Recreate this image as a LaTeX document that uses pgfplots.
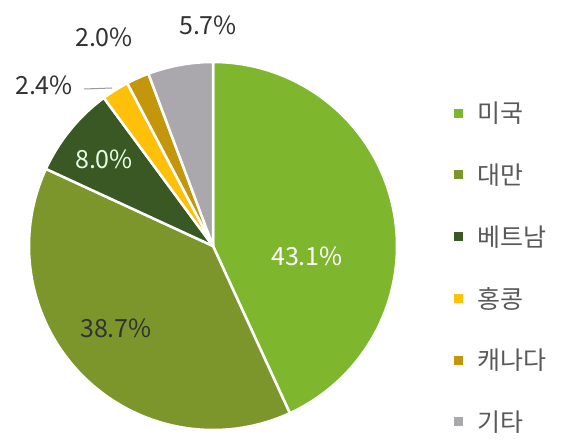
\documentclass[border=0pt]{standalone}
\usepackage{pgfplots}
\pgfplotsset{compat=1.18}
\usepackage{fontspec}
\setmainfont{Noto Sans CJK KR}
\definecolor{cUS}{RGB}{126,183,45}
\definecolor{cTW}{RGB}{124,150,44}
\definecolor{cVN}{RGB}{58,88,35}
\definecolor{cHK}{RGB}{255,192,10}
\definecolor{cCA}{RGB}{196,150,12}
\definecolor{cOT}{RGB}{170,168,172}
\definecolor{txt}{RGB}{89,89,89}
\definecolor{lbl}{RGB}{50,50,50}
% slice: #1 cumulative start (%), #2 value (%), #3 colour; total = 99.9
\newcommand{\slice}[3]{%
  \addplot[fill=#3, draw=white, line width=2.5pt, line join=round, domain=0:1, samples=120]
    ({213+184*cos(90-360*(#1+#2*x)/99.9)},{199+184*sin(90-360*(#1+#2*x)/99.9)})
    -- (axis cs:213,199) -- cycle;}
\begin{document}
\begin{tikzpicture}
\begin{axis}[scale only axis, width=571pt, height=445pt,
  xmin=0, xmax=571, ymin=0, ymax=445, hide axis, clip=false,
  legend cell align=left,
  legend image code/.code={\fill[#1, draw=none] (0pt,-4.5pt) rectangle (9pt,4.5pt);},
  legend style={at={(axis cs:454,345)}, anchor=north west, draw=none, fill=none,
    font=\fontsize{25}{25}\selectfont, text=txt, row sep=35.5pt, column sep=12pt, inner sep=0pt,
    nodes={inner sep=2pt}}]
\path (axis cs:0,0) rectangle (axis cs:571,445);
\slice{0}{43.1}{cUS}\addlegendentry{미국}
\slice{43.1}{38.7}{cTW}\addlegendentry{대만}
\slice{81.8}{8.0}{cVN}\addlegendentry{베트남}
\slice{89.8}{2.4}{cHK}\addlegendentry{홍콩}
\slice{92.2}{2.0}{cCA}\addlegendentry{캐나다}
\slice{94.2}{5.7}{cOT}\addlegendentry{기타}
\addplot[forget plot, color=gray!80, line width=1pt] coordinates {(84,356) (112,357)};
\node[font=\fontsize{25}{25}\selectfont, text=white] at (axis cs:307,189) {43.1\%};
\node[font=\fontsize{25}{25}\selectfont, text=lbl] at (axis cs:116,117) {38.7\%};
\node[font=\fontsize{25}{25}\selectfont, text=white!90!green] at (axis cs:104,286) {8.0\%};
\node[font=\fontsize{25}{25}\selectfont, text=lbl] at (axis cs:44,360) {2.4\%};
\node[font=\fontsize{25}{25}\selectfont, text=lbl] at (axis cs:104,408) {2.0\%};
\node[font=\fontsize{25}{25}\selectfont, text=lbl] at (axis cs:208,420) {5.7\%};
\end{axis}
\end{tikzpicture}
\end{document}
